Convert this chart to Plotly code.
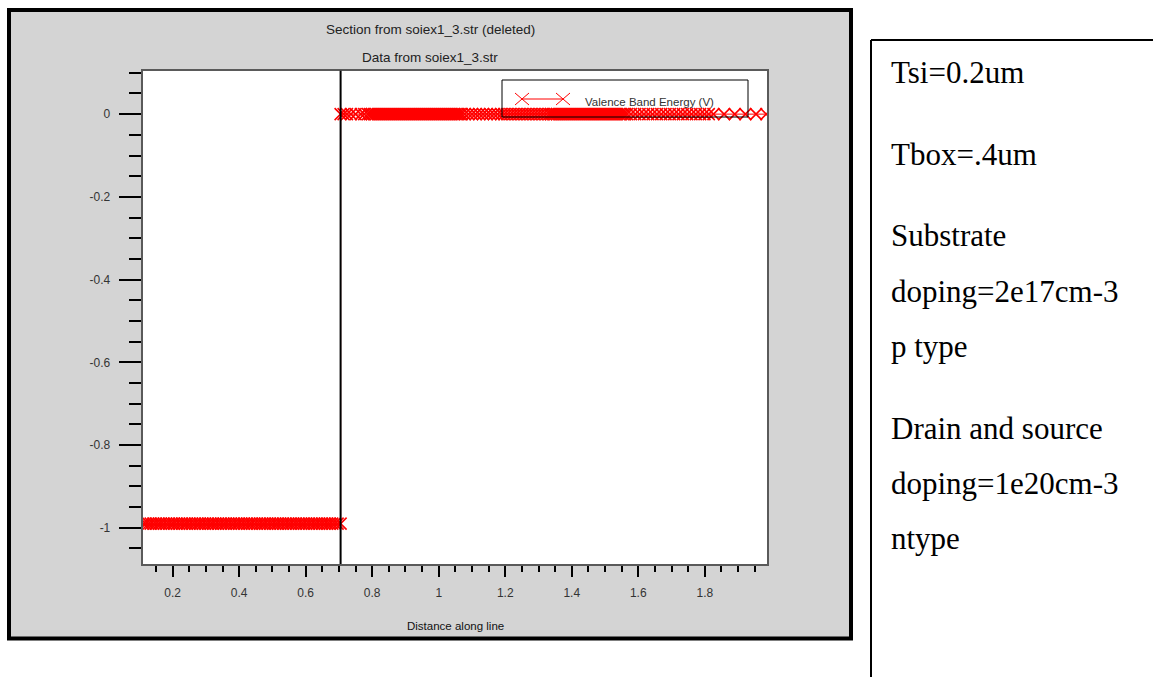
import plotly.graph_objects as go

# ---------------- data ----------------
series_name = "Valence Band Energy (V)"
left_level = -0.99
right_level = 0.0
junction_x = 0.705

left_x = [0.112, 0.119, 0.127, 0.134, 0.142, 0.150, 0.158, 0.165, 0.173, 0.181,
          0.189, 0.197, 0.204, 0.212, 0.220, 0.228, 0.236, 0.243, 0.251, 0.259,
          0.267, 0.275, 0.282, 0.290, 0.298, 0.306, 0.314, 0.321, 0.329, 0.337,
          0.345, 0.353, 0.360, 0.368, 0.376, 0.384, 0.392, 0.399, 0.407, 0.415,
          0.423, 0.431, 0.438, 0.446, 0.454, 0.462, 0.470, 0.477, 0.485, 0.493,
          0.501, 0.509, 0.516, 0.524, 0.532, 0.540, 0.548, 0.555, 0.563, 0.571,
          0.579, 0.587, 0.594, 0.602, 0.610, 0.618, 0.626, 0.633, 0.641, 0.649,
          0.657, 0.665, 0.672, 0.680, 0.688, 0.696, 0.705]

right_x = [0.705, 0.714, 0.724, 0.736, 0.750, 0.766, 0.776,
           0.787, 0.793, 0.799, 0.805, 0.811, 0.817, 0.823, 0.829, 0.835, 0.841,
           0.847, 0.853, 0.859, 0.865, 0.871, 0.877, 0.883, 0.889, 0.895, 0.901,
           0.907, 0.913, 0.919, 0.925, 0.931, 0.937, 0.943, 0.949, 0.955, 0.961,
           0.967, 0.973, 0.979, 0.985, 0.991, 0.997, 1.003, 1.009, 1.015, 1.021,
           1.027, 1.033, 1.039, 1.045, 1.051, 1.057, 1.063, 1.069,
           1.078, 1.089, 1.100, 1.111, 1.122, 1.133, 1.144, 1.155, 1.166, 1.177, 1.188,
           1.197, 1.206, 1.215, 1.224, 1.233, 1.242, 1.251, 1.260, 1.269, 1.278,
           1.287, 1.296, 1.305, 1.314, 1.323, 1.332,
           1.338, 1.344, 1.350, 1.356, 1.362, 1.368, 1.374, 1.380, 1.386, 1.392,
           1.398, 1.404, 1.410, 1.416, 1.422, 1.428, 1.434, 1.440, 1.446, 1.452,
           1.458, 1.464, 1.470, 1.476, 1.482, 1.488, 1.494, 1.500, 1.506, 1.512,
           1.518, 1.524, 1.530, 1.536, 1.542, 1.548, 1.554, 1.560, 1.566,
           1.578, 1.591, 1.604, 1.617, 1.630, 1.643, 1.656, 1.669, 1.682, 1.695,
           1.708, 1.721, 1.734, 1.747, 1.760, 1.773, 1.786, 1.799, 1.812,
           1.826, 1.858, 1.890, 1.922, 1.954, 1.985]

x_tick_vals = [0.2, 0.4, 0.6, 0.8, 1.0, 1.2, 1.4, 1.6, 1.8]
x_tick_text = ["0.2", "0.4", "0.6", "0.8", "1", "1.2", "1.4", "1.6", "1.8"]
y_tick_vals = [0, -0.2, -0.4, -0.6, -0.8, -1.0]
y_tick_text = ["0", "-0.2", "-0.4", "-0.6", "-0.8", "-1"]

title_lines = ["Section from soiex1_3.str (deleted)", "Data from soiex1_3.str"]
x_title = "Distance along line"
side_notes = ["Tsi=0.2um", "Tbox=.4um", "Substrate", "doping=2e17cm-3", "p type",
              "Drain and source", "doping=1e20cm-3", "ntype"]
side_note_y = [72, 154, 236, 291, 346, 428, 483, 538]

# ---------------- layout helpers (figure pixels -> paper) ----------------
W, H = 1153, 677
def px(x):
    return x / W
def py(y):
    return 1 - y / H

PL, PR, PT, PB = 142.7, 767.0, 70.7, 564.0

all_x = left_x + right_x
all_y = [left_level] * len(left_x) + [right_level] * len(right_x)

fig = go.Figure()
fig.add_trace(go.Scatter(
    x=all_x, y=all_y, mode="lines+markers", name=series_name,
    line=dict(color="#ff0000", width=1),
    marker=dict(symbol="x-thin", size=12, line=dict(color="#ff0000", width=1.6), color="#ff0000"),
    showlegend=False, hoverinfo="skip"))

shapes = []
# outer gray panel with black frame
shapes.append(dict(type="rect", xref="paper", yref="paper", layer="below",
                   x0=px(9), x1=px(851), y0=py(638.5), y1=py(10),
                   fillcolor="#d4d4d4", line=dict(color="black", width=4)))
# white plot area
shapes.append(dict(type="rect", xref="paper", yref="paper", layer="below",
                   x0=px(PL), x1=px(PR), y0=py(PB), y1=py(PT),
                   fillcolor="white", line=dict(width=0)))
# junction line
shapes.append(dict(type="line", xref="x", yref="paper", layer="above",
                   x0=junction_x, x1=junction_x, y0=py(PB), y1=py(PT),
                   line=dict(color="black", width=2)))
# legend box
shapes.append(dict(type="rect", xref="paper", yref="paper", layer="above",
                   x0=px(502), x1=px(748), y0=py(117), y1=py(80),
                   line=dict(color="black", width=1)))
# legend sample line and X markers
ly = 99
shapes.append(dict(type="line", xref="paper", yref="paper", layer="above",
                   x0=px(522), x1=px(563), y0=py(ly), y1=py(ly),
                   line=dict(color="#ff0000", width=1)))
for cx in (522, 563):
    shapes.append(dict(type="line", xref="paper", yref="paper", layer="above",
                       x0=px(cx - 7), x1=px(cx + 7), y0=py(ly - 6), y1=py(ly + 6),
                       line=dict(color="#ff0000", width=1)))
    shapes.append(dict(type="line", xref="paper", yref="paper", layer="above",
                       x0=px(cx - 7), x1=px(cx + 7), y0=py(ly + 6), y1=py(ly - 6),
                       line=dict(color="#ff0000", width=1)))
# right note panel border
shapes.append(dict(type="line", xref="paper", yref="paper",
                   x0=px(871), x1=px(1153), y0=py(40), y1=py(40),
                   line=dict(color="black", width=2)))
shapes.append(dict(type="line", xref="paper", yref="paper",
                   x0=px(871), x1=px(871), y0=py(40), y1=py(677),
                   line=dict(color="black", width=2)))

annotations = []
sans = "Liberation Sans, Arial, sans-serif"
annotations.append(dict(xref="paper", yref="paper", x=px(430), y=py(30), text=title_lines[0],
                        showarrow=False, xanchor="center", yanchor="middle",
                        font=dict(family=sans, size=13.5, color="#222222")))
annotations.append(dict(xref="paper", yref="paper", x=px(430), y=py(57), text=title_lines[1],
                        showarrow=False, xanchor="center", yanchor="middle",
                        font=dict(family=sans, size=13.5, color="#222222")))
annotations.append(dict(xref="paper", yref="paper", x=px(455), y=py(626), text=x_title,
                        showarrow=False, xanchor="center", yanchor="middle",
                        font=dict(family=sans, size=11.5, color="#111111")))
annotations.append(dict(xref="paper", yref="paper", x=px(583), y=py(102), text=series_name,
                        showarrow=False, xanchor="left", yanchor="middle",
                        font=dict(family=sans, size=11.5, color="#333333")))
for t, yy in zip(side_notes, side_note_y):
    annotations.append(dict(xref="paper", yref="paper", x=px(889), y=py(yy), text=t,
                            showarrow=False, xanchor="left", yanchor="middle",
                            font=dict(family="Liberation Serif, Times New Roman, serif",
                                      size=31, color="black")))

tickfont = dict(family=sans, size=12, color="#333333")
fig.update_layout(
    width=W, height=H,
    margin=dict(l=0, r=0, t=0, b=0),
    paper_bgcolor="white", plot_bgcolor="rgba(0,0,0,0)",
    shapes=shapes, annotations=annotations,
    xaxis=dict(domain=[px(PL), px(PR)], range=[0.11, 1.987],
               tickvals=x_tick_vals, ticktext=x_tick_text,
               ticks="outside", ticklen=11, tickwidth=2, tickcolor="black",
               ticklabelstandoff=6,
               minor=dict(dtick=0.05, tick0=0, ticks="outside", ticklen=6, tickwidth=1.5,
                          tickcolor="black", showgrid=False),
               showgrid=False, zeroline=False,
               showline=True, linecolor="#5a5a5a", linewidth=2, mirror=True,
               tickfont=tickfont),
    yaxis=dict(domain=[py(PB), py(PT)], range=[-1.0875, 0.105],
               tickvals=y_tick_vals, ticktext=y_tick_text,
               ticks="outside", ticklen=22, tickwidth=2, tickcolor="black",
               ticklabelstandoff=6,
               minor=dict(dtick=0.05, tick0=0, ticks="outside", ticklen=12, tickwidth=1.5,
                          tickcolor="black", showgrid=False),
               showgrid=False, zeroline=False,
               showline=True, linecolor="#5a5a5a", linewidth=2, mirror=True,
               tickfont=tickfont),
)

fig.write_html("out.html")
